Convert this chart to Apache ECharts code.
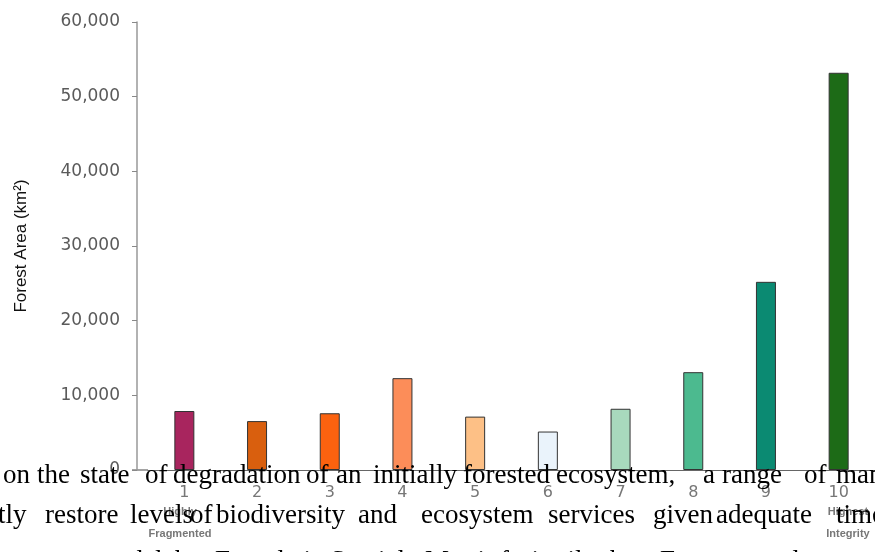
<!DOCTYPE html>
<html>
<head>
<meta charset="utf-8">
<script src="https://cdn.jsdelivr.net/npm/echarts@6/dist/echarts.min.js"></script>
<style>
  html, body { margin: 0; padding: 0; background: #fff; }
  #chart { width: 875px; height: 552px; }
</style>
</head>
<body>
<div id="chart"></div>
<script>
// categories (integrity classes) and forest area per class
var classes = ['1', '2', '3', '4', '5', '6', '7', '8', '9', '10'];
var areas = [7900, 6550, 7600, 12300, 7150, 5150, 8200, 13100, 25200, 53200];
var barColors = ['#a8255e', '#d95f0e', '#fb620f', '#fc8d59', '#fdc086',
                 '#eaf3fb', '#a8d9bd', '#4cba8f', '#0b8a72', '#1d6b17'];
var yTicks = [0, 10000, 20000, 30000, 40000, 50000, 60000];

// page text lying over the chart (word, x)
var line1 = [['on', 3], ['the', 37], ['state', 80], ['of', 145], ['degradation', 173],
             ['of', 306], ['an', 336], ['initially', 373], ['forested', 463],
             ['ecosystem,', 556], ['a', 703], ['range', 722], ['of', 804], ['management', 836]];
var line2 = [['tly', -2], ['restore', 45], ['levels', 130], ['of', 190], ['biodiversity', 216],
             ['and', 358], ['ecosystem', 421], ['services', 548], ['given', 653],
             ['adequate', 716], ['time', 836]];
var line3 = [['nt', -4], ['model', 95], ['by', 175], ['Foundation', 215], ['Spatial', 330],
             ['Matrix', 425], ['fruit', 500], ['tile', 560], ['by', 610], ['Forest', 660],
             ['and', 760]];

var chart = echarts.init(document.getElementById('chart'));

var pageText = [];
function addLine(words, baseline) {
    for (var i = 0; i < words.length; i++) {
        pageText.push({
            type: 'text',
            x: words[i][1],
            y: baseline,
            z: 100,
            style: {
                text: words[i][0],
                font: '27px "Liberation Serif"',
                fill: '#000',
                verticalAlign: 'bottom'
            }
        });
    }
}
// baselines ~483 / 523 / 568 (bottom align adds the descent)
addLine(line1, 489);
addLine(line2, 529);
addLine(line3, 575);

var option = {
    animation: false,
    grid: { left: 148, right: 0, top: 22, bottom: 82 },
    xAxis: {
        type: 'category',
        data: classes,
        axisLine: { lineStyle: { color: '#666', width: 1.2 } },
        axisTick: { show: false },
        axisLabel: { color: '#777', fontSize: 16, fontFamily: 'DejaVu Sans', margin: 15 }
    },
    yAxis: {
        type: 'value',
        min: yTicks[0],
        max: yTicks[yTicks.length - 1],
        interval: 10000,
        offset: 11,
        name: 'Forest Area (km²)',
        nameLocation: 'middle',
        nameGap: 107,
        nameTextStyle: { color: '#111', fontSize: 17, fontFamily: 'Liberation Sans' },
        splitLine: { show: false },
        axisLine: { show: true, lineStyle: { color: '#999', width: 1.5 } },
        axisTick: { show: true, length: 5, lineStyle: { color: '#888' } },
        axisLabel: {
            color: '#5a5a5a', fontSize: 17, fontFamily: 'DejaVu Sans', margin: 17,
            formatter: function (v) { return v.toLocaleString('en-US'); }
        }
    },
    series: [{
        type: 'bar',
        data: areas.map(function (v, i) {
            return { value: v, itemStyle: { color: barColors[i] } };
        }),
        barWidth: 20,
        itemStyle: { borderColor: '#333', borderWidth: 1 }
    }],
    graphic: [
        { type: 'line', shape: { x1: 132, y1: 470, x2: 148, y2: 470 },
          style: { stroke: '#666', lineWidth: 1.2 } },
        { type: 'text', x: 180, y: 501, z: 50, style: { text: 'Highly\nFragmented', font: 'bold 11px "Liberation Sans"',
          fill: '#777', align: 'center', lineHeight: 22 } },
        { type: 'text', x: 848, y: 501, z: 50, style: { text: 'Highest\nIntegrity', font: 'bold 11px "Liberation Sans"',
          fill: '#777', align: 'center', lineHeight: 22 } }
    ].concat(pageText)
};
chart.setOption(option);
</script>
</body>
</html>
